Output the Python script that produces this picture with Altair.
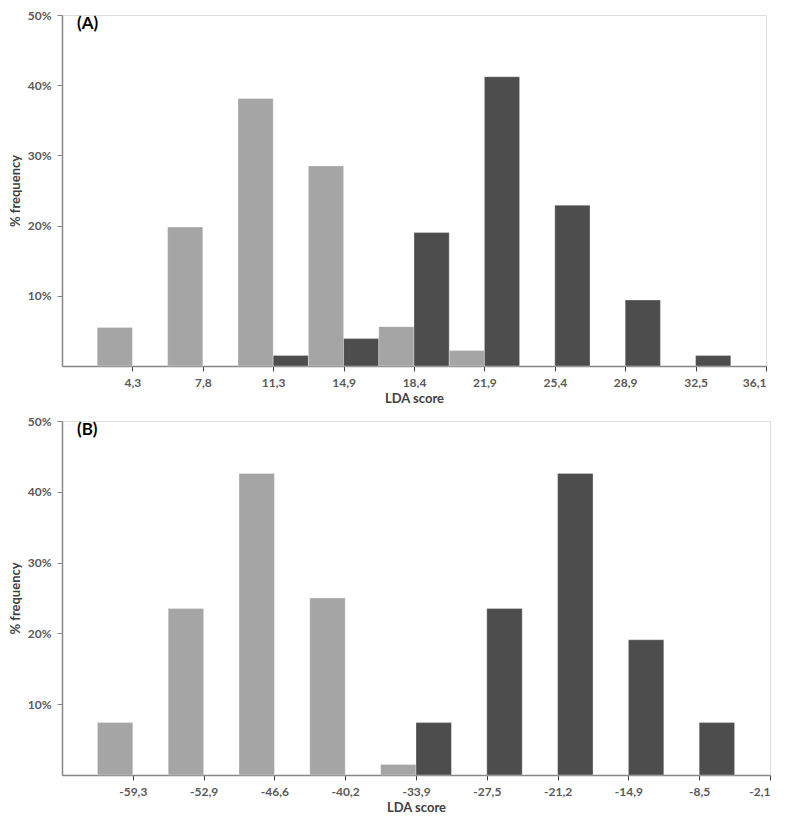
import altair as alt
import pandas as pd

# Panel A
a_labels = ["4,3", "7,8", "11,3", "14,9", "18,4", "21,9", "25,4", "28,9", "32,5", "36,1"]
a_light = [5.5, 19.8, 38.1, 28.5, 5.6, 2.2, 0, 0, 0, 0]
a_dark = [0, 0, 1.5, 3.9, 19.0, 41.2, 22.9, 9.4, 1.5, 0]

# Panel B
b_labels = ["-59,3", "-52,9", "-46,6", "-40,2", "-33,9", "-27,5", "-21,2", "-14,9", "-8,5", "-2,1"]
b_light = [7.4, 23.5, 42.6, 25.0, 1.5, 0, 0, 0, 0, 0]
b_dark = [0, 0, 0, 0, 7.4, 23.5, 42.6, 19.1, 7.4, 0]

y_ticks = [10, 20, 30, 40, 50]

LIGHT = "#A5A5A5"
DARK = "#4D4D4D"
FONT = "Lato"


def make_df(labels, light, dark):
    rows = []
    for i, lab in enumerate(labels):
        rows.append({"idx": i + 1, "label": lab, "group": "light", "value": light[i]})
        rows.append({"idx": i + 1, "label": lab, "group": "dark", "value": dark[i]})
    return pd.DataFrame(rows)


def panel(labels, light, dark, tag, width, height):
    df = make_df(labels, light, dark)
    n = len(labels)
    lab_js = "[" + ",".join("'" + l + "'" for l in labels) + "]"
    bars = (
        alt.Chart(df)
        .transform_filter("datum.value > 0")
        .transform_calculate(
            x0="datum.group == 'light' ? datum.idx - 0.5 : datum.idx",
            x1="datum.group == 'light' ? datum.idx : datum.idx + 0.5",
        )
        .mark_rect(stroke="#FFFFFF", strokeWidth=0.6, strokeOpacity=0.5)
        .encode(
            x=alt.X(
                "x0:Q",
                scale=alt.Scale(domain=[0, n], nice=False, zero=False),
                axis=alt.Axis(
                    values=list(range(1, n + 1)),
                    labelExpr=lab_js + "[datum.value - 1]",
                    title="LDA score",
                    grid=False,
                    tickSize=5,
                    labelPadding=6,
                    titlePadding=4,
                    labelFont=FONT,
                    labelFontSize=12,
                    labelFontWeight="bold",
                    labelColor="#595959",
                    titleFont=FONT,
                    titleFontSize=13,
                    titleFontWeight="bold",
                    titleColor="#404040",
                    domainColor="#868686",
                    domainWidth=1.5,
                    tickColor="#404040",
                    labelOverlap=False,
                ),
            ),
            x2="x1:Q",
            y=alt.Y(
                "value:Q",
                scale=alt.Scale(domain=[0, 50], nice=False),
                axis=alt.Axis(
                    values=y_ticks,
                    labelExpr="datum.value + '%'",
                    title="% frequency",
                    grid=False,
                    tickSize=5,
                    labelPadding=6,
                    titlePadding=5,
                    labelFont=FONT,
                    labelFontSize=12,
                    labelFontWeight="bold",
                    labelColor="#595959",
                    titleFont=FONT,
                    titleFontSize=13,
                    titleFontWeight="bold",
                    titleColor="#404040",
                    domainColor="#868686",
                    domainWidth=1.5,
                    tickColor="#868686",
                ),
            ),
            y2=alt.datum(0),
            color=alt.Color(
                "group:N",
                scale=alt.Scale(domain=["light", "dark"], range=[LIGHT, DARK]),
                legend=None,
            ),
        )
    )
    tag_df = pd.DataFrame({"t": [tag]})
    txt = (
        alt.Chart(tag_df)
        .mark_text(align="left", baseline="middle", font=FONT, fontSize=17,
                   fontWeight="bold", color="#000000")
        .encode(text="t:N", x=alt.value(15), y=alt.value(9))
    )
    return alt.layer(bars, txt).properties(width=width, height=height)


pa = panel(a_labels, a_light, a_dark, "(A)", 704, 351)
pb = panel(b_labels, b_light, b_dark, "(B)", 708, 354)

chart = (
    alt.vconcat(pa, pb, spacing=8)
    .properties(padding={"left": 0, "top": 0, "right": 0, "bottom": 0})
    .configure_view(stroke=None)
    .configure(background="white")
)

chart.save("out.html", embed_options={"renderer": "svg", "actions": False})
